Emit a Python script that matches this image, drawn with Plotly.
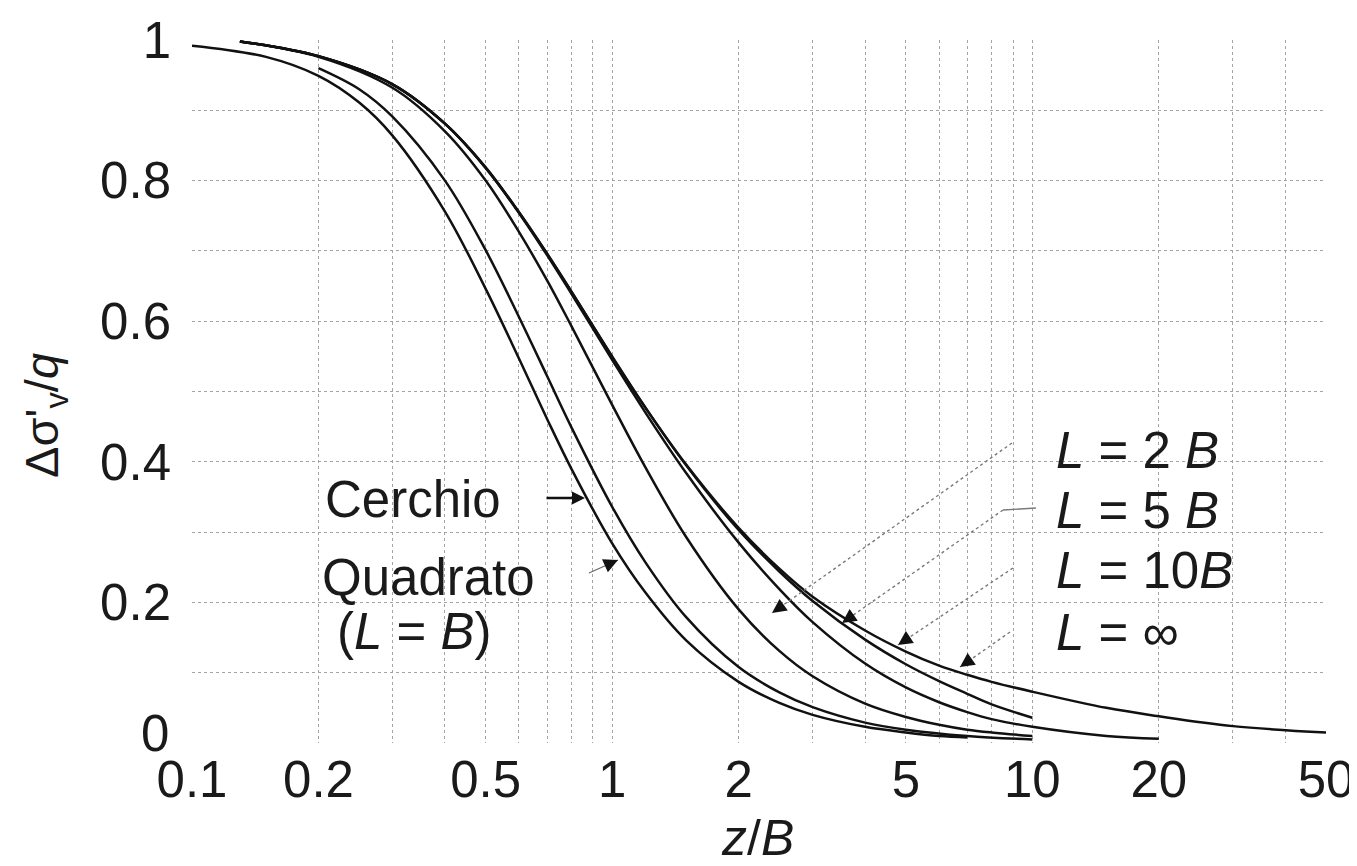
import numpy as np
import plotly.graph_objects as go

# ---------------- data ----------------
z_circle = [0.1, 0.15, 0.2, 0.25, 0.3, 0.4, 0.5, 0.6, 0.7, 0.8, 1.0, 1.2, 1.5, 2.0, 2.5, 3.0, 4.0, 5.0, 6.0, 7.0]
s_circle = [0.992, 0.976, 0.949, 0.911, 0.864, 0.756, 0.646, 0.547, 0.461, 0.390, 0.284, 0.214, 0.146, 0.087, 0.057, 0.040, 0.023, 0.015, 0.010, 0.008]

z_square = [0.2, 0.25, 0.3, 0.4, 0.5, 0.6, 0.7, 0.8, 1.0, 1.2, 1.5, 2.0, 2.5, 3.0, 4.0, 5.0, 7.0, 10.0]
s_square = [0.960, 0.930, 0.891, 0.800, 0.701, 0.606, 0.522, 0.449, 0.336, 0.257, 0.179, 0.108, 0.072, 0.051, 0.029, 0.019, 0.010, 0.005]

z_L2 = [0.13, 0.2, 0.3, 0.4, 0.5, 0.6, 0.7, 0.8, 1.0, 1.2, 1.5, 2.0, 2.5, 3.0, 4.0, 5.0, 6.0, 7.0, 8.0, 10.0]
s_L2 = [0.998, 0.976, 0.932, 0.870, 0.800, 0.727, 0.658, 0.593, 0.481, 0.392, 0.293, 0.190, 0.131, 0.095, 0.056, 0.037, 0.026, 0.019, 0.015, 0.010]

z_L5 = [0.13, 0.2, 0.3, 0.4, 0.5, 0.6, 0.7, 0.8, 1.0, 1.2, 1.5, 2.0, 2.5, 3.0, 4.0, 5.0, 6.0, 7.0, 8.0, 10.0, 15.0, 20.0]
s_L5 = [0.998, 0.977, 0.937, 0.881, 0.818, 0.754, 0.694, 0.639, 0.545, 0.470, 0.384, 0.285, 0.219, 0.172, 0.113, 0.079, 0.058, 0.044, 0.034, 0.023, 0.010, 0.006]

z_L10 = [0.13, 0.2, 0.3, 0.4, 0.5, 0.6, 0.7, 0.8, 1.0, 1.2, 1.5, 2.0, 2.5, 3.0, 4.0, 5.0, 6.0, 7.0, 8.0, 10.0]
s_L10 = [0.998, 0.977, 0.937, 0.881, 0.819, 0.755, 0.696, 0.642, 0.549, 0.477, 0.395, 0.303, 0.244, 0.202, 0.147, 0.112, 0.088, 0.070, 0.055, 0.036]

z_strip = [0.13, 0.2, 0.3, 0.4, 0.5, 0.6, 0.7, 0.8, 1.0, 1.2, 1.5, 2.0, 2.5, 3.0, 4.0, 5.0, 6.0, 7.0, 8.0, 10.0, 15.0, 20.0, 30.0, 50.0]
s_strip = [0.998, 0.977, 0.937, 0.881, 0.818, 0.755, 0.696, 0.642, 0.550, 0.477, 0.396, 0.306, 0.248, 0.208, 0.160, 0.130, 0.110, 0.097, 0.087, 0.073, 0.050, 0.038, 0.024, 0.015]

xtick_vals = [0.1, 0.2, 0.5, 1, 2, 5, 10, 20, 50]
xtick_text = ["0.1", "0.2", "0.5", "1", "2", "5", "10", "20", "50"]
xminor_vals = [0.3, 0.4, 0.6, 0.7, 0.8, 0.9, 3, 4, 6, 7, 8, 9, 30, 40]
ytick_vals = [0, 0.2, 0.4, 0.6, 0.8, 1.0]
ytick_text = ["", "0.2", "0.4", "0.6", "0.8", "1"]   # "0" is drawn slightly raised, as in the original

# ---------------- figure ----------------
FONT = "Liberation Sans, Arial, Helvetica, sans-serif"
INK = "#1a1a1a"
GRID = "#a4a4a4"

fig = go.Figure()
for zz, ss in [(z_circle, s_circle), (z_square, s_square), (z_L2, s_L2),
               (z_L5, s_L5), (z_L10, s_L10), (z_strip, s_strip)]:
    fig.add_trace(go.Scatter(x=zz, y=ss, mode="lines",
                             line=dict(color="#111111", width=2.5, shape="spline", smoothing=1.0),
                             hoverinfo="skip"))

# page has an 8px body margin: target screen positions of the plot area
OFF = 8
W, H = 1357 - OFF, 866 - OFF
X0, X1, Y0, Y1 = 192, 1326, 40, 743          # screen pixels of plot area
PW, PH = X1 - X0, Y1 - Y0
ML, MT = X0 - OFF, Y0 - OFF
MR, MB = W - (X1 - OFF), H - (Y1 - OFF)


def px(x):
    return (x - X0) / PW


def py(y):
    return (Y1 - y) / PH


def label(txt, x, y, size=51, xanchor="center", angle=0):
    return dict(text=txt, xref="paper", yref="paper", x=px(x), y=py(y),
                xanchor=xanchor, yanchor="middle", showarrow=False, textangle=angle,
                font=dict(size=size, color=INK, family=FONT))


ann = []
ann.append(label("0", 171, 733, xanchor="right"))
ann.append(label("Δσ'<sub>v</sub>/<i>q</i>", 45, 416, size=47, angle=-90))
ann.append(label("<i>z</i>/<i>B</i>", 757, 838, size=50))
ann.append(label("Cerchio", 413, 499))
ann.append(label("Quadrato", 428, 577))
ann.append(label("(<i>L</i> = <i>B</i>)", 414, 631))
for txt, yy in [("<i>L</i> = 2 <i>B</i>", 450), ("<i>L</i> = 5 <i>B</i>", 511),
                ("<i>L</i> = 10<i>B</i>", 570), ("<i>L</i> = ∞", 632)]:
    ann.append(label(txt, 1054, yy, xanchor="left"))


def head(tip, tail, width, size, color, length=13):
    dx, dy = tail[0] - tip[0], tail[1] - tip[1]
    n = (dx * dx + dy * dy) ** 0.5
    return dict(text="", xref="paper", yref="paper", x=px(tip[0]), y=py(tip[1]),
                ax=dx / n * length, ay=dy / n * length, showarrow=True,
                arrowhead=2, arrowsize=size, arrowwidth=width, arrowcolor=color)


shapes = []


def leader(tip, tail, color="#7a7a7a", dash="dot", width=1.4):
    shapes.append(dict(type="line", xref="paper", yref="paper",
                       x0=px(tail[0]), y0=py(tail[1]), x1=px(tip[0]), y1=py(tip[1]),
                       line=dict(color=color, width=width, dash=dash)))


# Cerchio: short heavy arrow
ann.append(head((585, 498), (545, 498), 2.6, 1.0, "#111", length=40))
# Quadrato: thin leader + heavy head
leader((618, 560), (589, 573), color="#666", dash="solid", width=1.1)
ann.append(head((618, 560), (589, 573), 2.2, 1.3, "#111"))
# L = ... leaders
for tip, tail in [((772, 613), (1012, 443)), ((842, 623), (1003, 510)),
                  ((898, 645), (1013, 568)), ((960, 667), (1010, 632))]:
    leader(tip, tail)
    ann.append(head(tip, tail, 2.2, 1.3, "#111"))
shapes.append(dict(type="line", xref="paper", yref="paper", x0=px(1003), y0=py(510),
                   x1=px(1036), y1=py(508), line=dict(color="#7a7a7a", width=1.4)))

fig.update_layout(
    width=W, height=H,
    margin=dict(l=ML, r=MR, t=MT, b=MB, autoexpand=False),
    paper_bgcolor="white", plot_bgcolor="white",
    showlegend=False,
    font=dict(family=FONT, size=51, color=INK),
    annotations=ann, shapes=shapes,
    xaxis=dict(type="log", range=[-1, np.log10(50)], automargin=False,
               tickmode="array", tickvals=xtick_vals, ticktext=xtick_text,
               tickfont=dict(size=51, color=INK, family=FONT),
               showgrid=True, gridcolor=GRID, gridwidth=1, griddash="dot",
               minor=dict(tickmode="array", tickvals=xminor_vals, showgrid=True,
                          gridcolor=GRID, gridwidth=1, griddash="dot"),
               zeroline=False, showline=False, ticks="", ticklabelstandoff=2),
    yaxis=dict(range=[0, 1], automargin=False,
               tickmode="array", tickvals=ytick_vals, ticktext=ytick_text,
               tickfont=dict(size=51, color=INK, family=FONT),
               showgrid=True, gridcolor=GRID, gridwidth=1, griddash="dot",
               minor=dict(dtick=0.1, showgrid=True, gridcolor=GRID, gridwidth=1, griddash="dot"),
               zeroline=False, showline=False, ticks="", ticklabelstandoff=20),
)

fig.write_html("out.html")
